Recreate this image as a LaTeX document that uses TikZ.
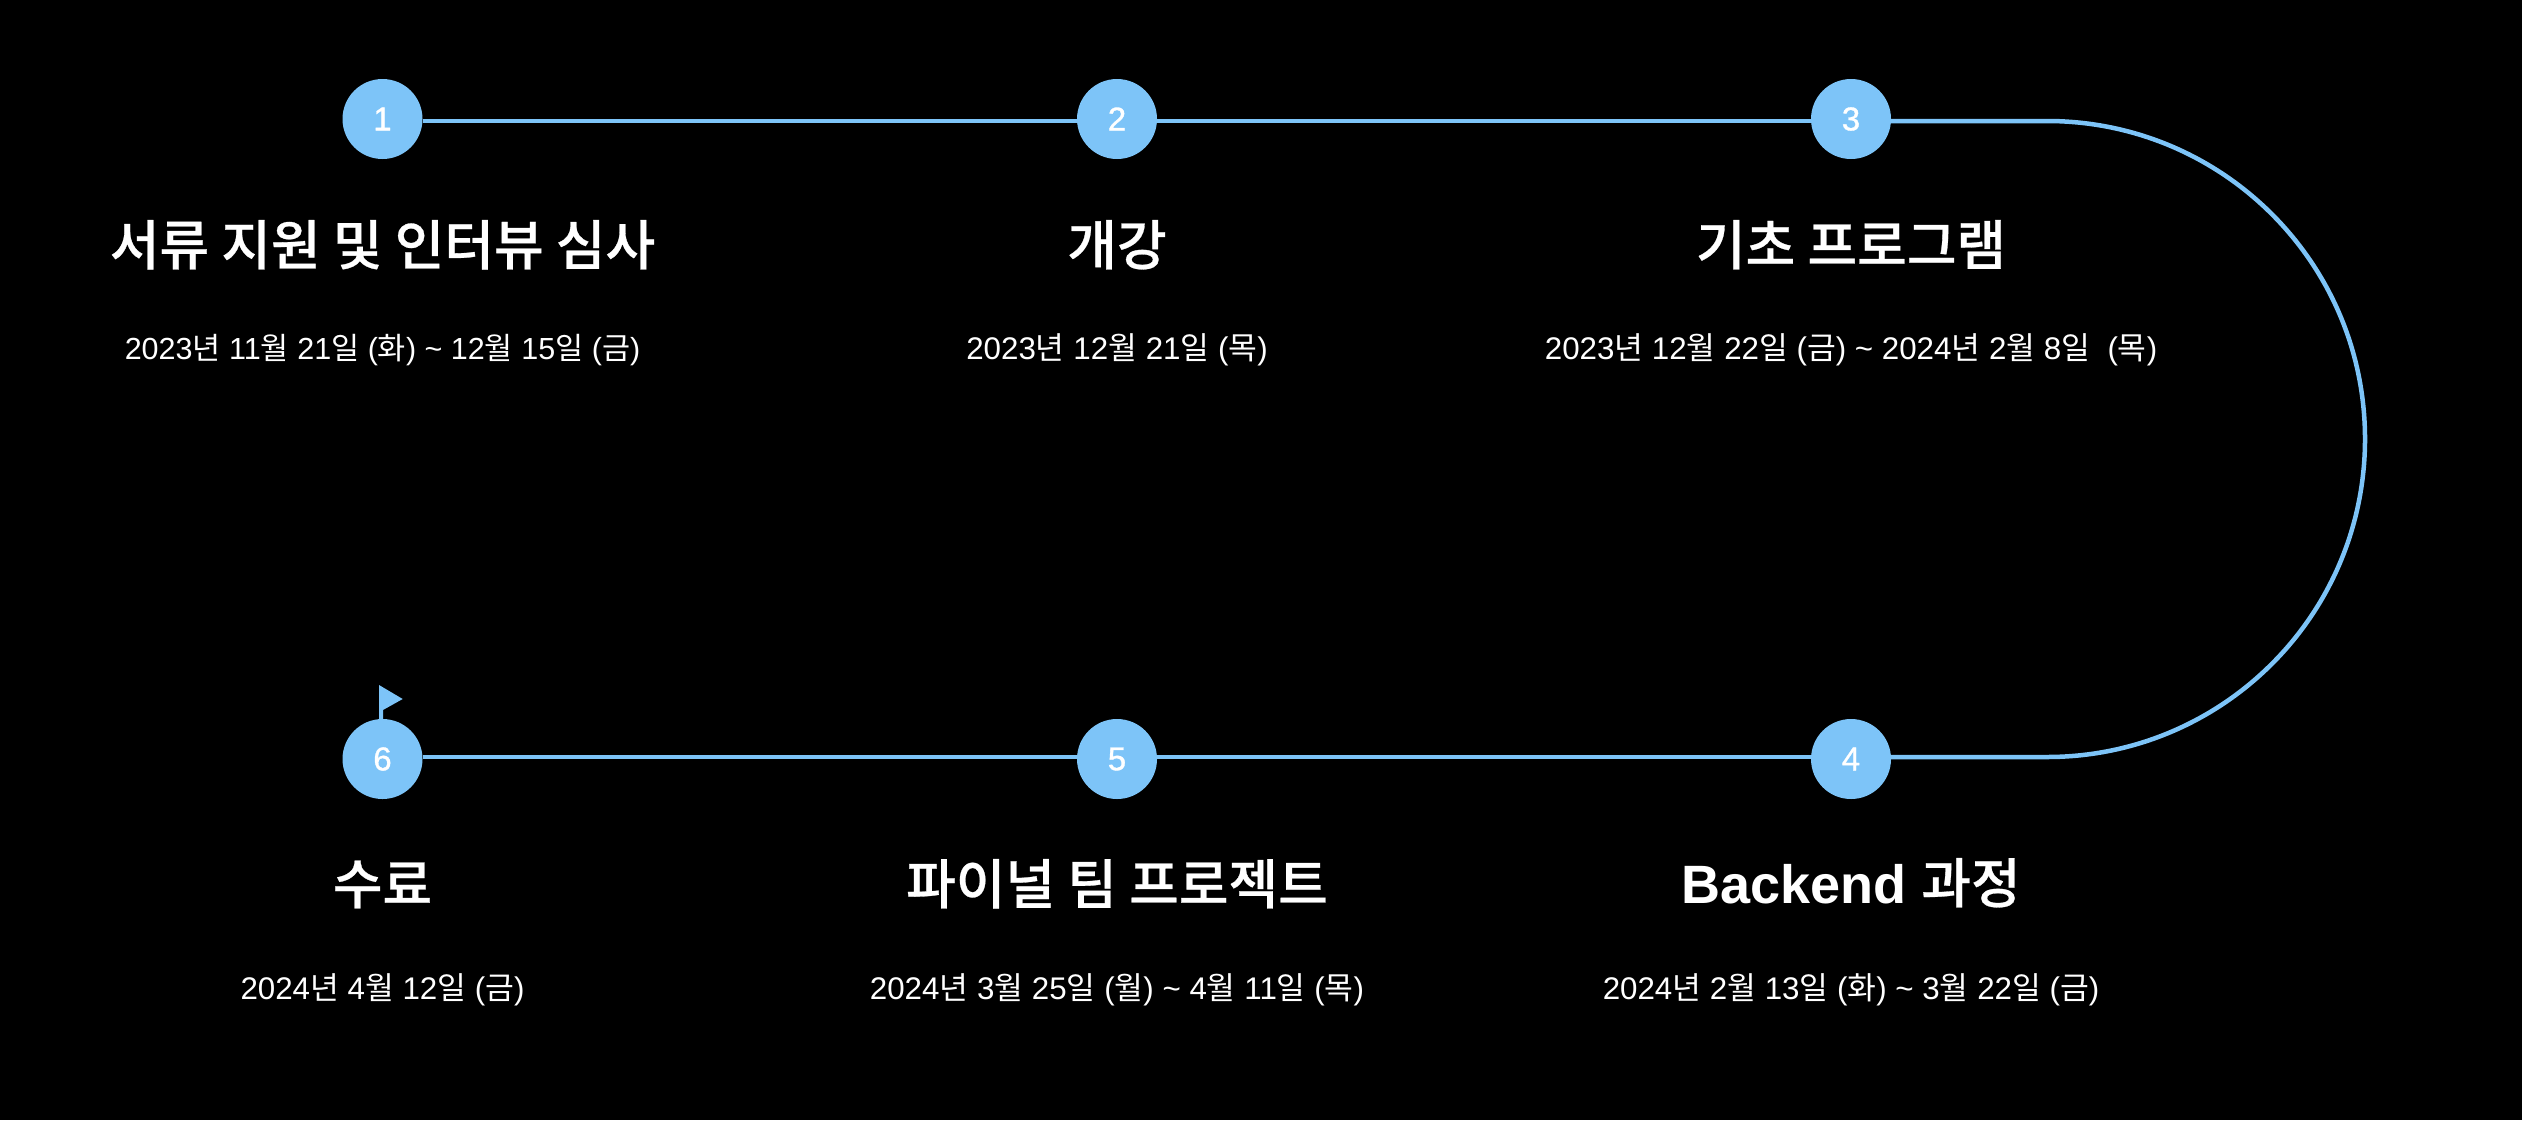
\documentclass[tikz,border=0pt]{standalone}
\usepackage{fontspec}
\setmainfont{Liberation Sans}
\newfontfamily\cjk{Noto Sans CJK KR}
\newfontfamily\cjkmid[FakeBold=0.5]{Noto Sans CJK KR Medium}
\newfontfamily\stepfont[FakeBold=1]{Liberation Sans}
\newcommand{\ko}[1]{{\cjk #1}}
\newcommand{\kot}[1]{{\mdseries\cjkmid #1}}
\definecolor{stepblue}{RGB}{125,196,248}

\begin{document}
\begin{tikzpicture}[x=1pt,y=-1pt, % picture is measured in pixels, from the top
	line width=4.5pt, % line style
	every node/.style={text=white,inner sep=0pt,outer sep=0pt},
	stepnode/.style={circle,fill=stepblue,minimum size=80pt,font=\fontsize{33}{33}\selectfont\stepfont},
	titlenode/.style={anchor=base,font=\fontsize{54}{54}\selectfont\bfseries},
	datenode/.style={anchor=base,font=\fontsize{31.3}{33}\selectfont}]
	\useasboundingbox (0,0) rectangle (2522,1120);
	\fill[black] (0,0) rectangle (2522,1120);

	\node[stepnode] (n1) at (382.5,119)	{1};
	\node[stepnode] (n2) at (1117,119)	{2};
	\node[stepnode] (n3) at (1851,119)	{3};
	\node[stepnode] (n4) at (1851,759)	{4};
	\node[stepnode] (n5) at (1117,759)	{5};
	\node[stepnode] (n6) at (382.5,759)	{6};

	\coordinate (c3) at (2047,121);
	\coordinate (c4) at (2047,757);

	\draw[stepblue] ([yshift=-2pt]n1.east)--([yshift=-2pt]n2.west);
	\draw[stepblue] ([yshift=-2pt]n2.east)--([yshift=-2pt]n3.west);
	\draw[stepblue] ([yshift=-2pt]n3.east)--(c3) arc[start angle=90,end angle=-90,radius=318pt]--([yshift=2pt]n4.east);
	\draw[stepblue] ([yshift=2pt]n4.west)--([yshift=2pt]n5.east);
	\draw[stepblue] ([yshift=2pt]n5.west)--([yshift=2pt]n6.east);

	% flag on the last step
	\fill[stepblue] (379,719)--(379,685)--(402.7,699)--(383,710)--(383,719)--cycle;

	\node[titlenode] (t1) at (382.5,265)	{\kot{서류 지원 및 인터뷰 심사}};
	\node[titlenode] (t2) at (1117,265)	{\kot{개강}};
	\node[titlenode] (t3) at (1851,265)	{\kot{기초 프로그램}};
	\node[titlenode] (t4) at (1851,903)	{Backend \kot{과정}};
	\node[titlenode] (t5) at (1117,904)	{\kot{파이널 팀 프로젝트}};
	\node[titlenode] (t6) at (382.5,904)	{\kot{수료}};

	\node[datenode,font=\fontsize{30.5}{33}\selectfont] (d1) at (382.5,359)	{2023\ko{년} 11\ko{월} 21\ko{일} (\ko{화}) \char`\~{} 12\ko{월} 15\ko{일} (\ko{금})};
	\node[datenode] (d2) at (1117,359)	{2023\ko{년} 12\ko{월} 21\ko{일} (\ko{목})};
	\node[datenode] (d3) at (1851,359)	{2023\ko{년} 12\ko{월} 22\ko{일} (\ko{금}) \char`\~{} 2024\ko{년} 2\ko{월} 8\ko{일}\ \ (\ko{목})};
	\node[datenode] (d4) at (1851,999)	{2024\ko{년} 2\ko{월} 13\ko{일} (\ko{화}) \char`\~{} 3\ko{월} 22\ko{일} (\ko{금})};
	\node[datenode] (d5) at (1117,999)	{2024\ko{년} 3\ko{월} 25\ko{일} (\ko{월}) \char`\~{} 4\ko{월} 11\ko{일} (\ko{목})};
	\node[datenode] (d6) at (382.5,999)	{2024\ko{년} 4\ko{월} 12\ko{일} (\ko{금})};
\end{tikzpicture}
\end{document}
